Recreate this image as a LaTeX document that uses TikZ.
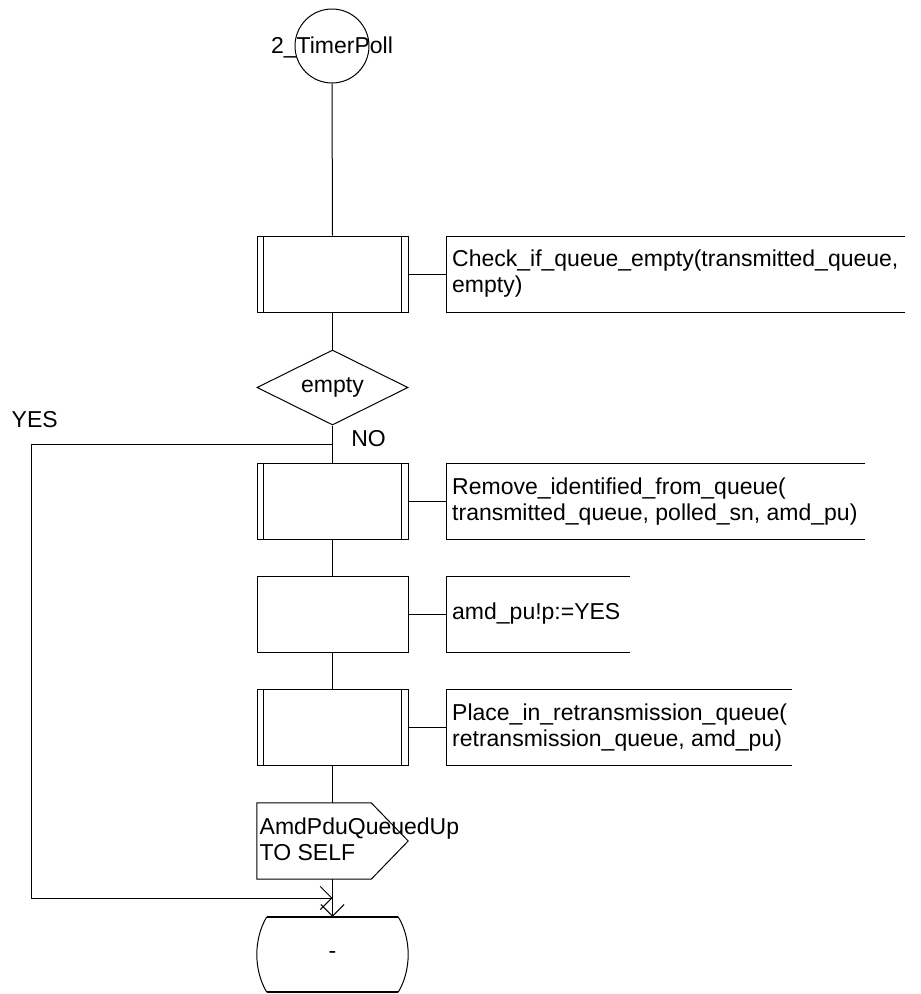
\documentclass[tikz,border=0pt]{standalone}
\usepackage{fontspec}
\setmainfont{Liberation Sans}
\usetikzlibrary{arrows.meta,shapes.geometric}

\tikzset{
  every node/.style={font=\fontsize{23pt}{26pt}\selectfont, inner sep=0pt},
  flow/.style={line width=1pt},
  boxshape/.style={draw, line width=1pt, minimum width=151pt, minimum height=76pt},
  decision/.style={draw, line width=1pt, diamond, aspect=2, minimum width=151pt, minimum height=75pt},
  ghost/.style={minimum width=151pt, minimum height=76pt},
  notetext/.style={anchor=west, align=left},
  sdlarrow/.style={line width=1pt, -{Straight Barb[length=11.6pt,width=23.2pt,line width=1pt]}},
}

\begin{document}
\begin{tikzpicture}[x=1pt, y=-1pt]
\useasboundingbox (0,0) rectangle (921,994);

% start symbol
\node[draw, circle, line width=1pt, minimum size=74pt] (start) at (332,46) {};
\node (startlbl) at (332,47) {2\_TimerPoll};

% procedure call 1
\node[boxshape] (b1) at (332.5,274) {};
\draw[flow] ([xshift=7pt]b1.north west) -- ([xshift=7pt]b1.south west)
            ([xshift=-7pt]b1.north east) -- ([xshift=-7pt]b1.south east);
\coordinate (c1l) at (446,274);
\draw[flow] (905,236) -- (446,236) -- (446,312) -- (905,312);
\node[notetext] (c1) at (452,274) {Check\_if\_queue\_empty(transmitted\_queue,\\empty)};
\draw[flow] (b1.east) -- (c1l);

% decision
\node[decision] (dec) at (332.5,387.5) {empty};
\coordinate (yesfork) at (332.5,444);
\node (yeslbl) at (34.7,420) {YES};
\node (nolbl) at (368.5,438.5) {NO};

% procedure call 2
\node[boxshape] (b2) at (332.5,501.5) {};
\draw[flow] ([xshift=7pt]b2.north west) -- ([xshift=7pt]b2.south west)
            ([xshift=-7pt]b2.north east) -- ([xshift=-7pt]b2.south east);
\coordinate (c2l) at (446,501.5);
\draw[flow] (865,463.5) -- (446,463.5) -- (446,539.5) -- (865,539.5);
\node[notetext] (c2) at (452,501.5) {Remove\_identified\_from\_queue(\\transmitted\_queue, polled\_sn, amd\_pu)};
\draw[flow] (b2.east) -- (c2l);

% task
\node[boxshape] (b3) at (332.5,614) {};
\coordinate (c3l) at (446,614);
\draw[flow] (630,576) -- (446,576) -- (446,652) -- (630,652);
\node[notetext] (c3) at (452,614) {amd\_pu!p:=YES};
\draw[flow] (b3.east) -- (c3l);

% procedure call 3
\node[boxshape] (b4) at (332.5,727.5) {};
\draw[flow] ([xshift=7pt]b4.north west) -- ([xshift=7pt]b4.south west)
            ([xshift=-7pt]b4.north east) -- ([xshift=-7pt]b4.south east);
\coordinate (c4l) at (446,727.5);
\draw[flow] (792,689.5) -- (446,689.5) -- (446,765.5) -- (792,765.5);
\node[notetext] (c4) at (452,727.5) {Place\_in\_retransmission\_queue(\\retransmission\_queue, amd\_pu)};
\draw[flow] (b4.east) -- (c4l);

% output signal
\node[ghost] (out) at (332.5,841) {};
\draw[flow] (out.north west) -- ([xshift=-37pt]out.north east) -- (out.east)
            -- ([xshift=-37pt]out.south east) -- (out.south west) -- cycle;
\node[notetext] (outlbl) at (259.5,839) {AmdPduQueuedUp\\TO SELF};

% next state
\node[minimum width=151pt, minimum height=75pt] (state) at (332.5,954.5) {-};
\draw[line width=2pt] ([xshift=10pt]state.north west) -- ([xshift=-10pt]state.north east);
\draw[line width=2pt] ([xshift=10pt]state.south west) -- ([xshift=-10pt]state.south east);
\draw[flow] ([xshift=10pt]state.north west) .. controls ([xshift=-3.3pt,yshift=-22pt]state.north west)
            and ([xshift=-3.3pt,yshift=22pt]state.south west) .. ([xshift=10pt]state.south west);
\draw[flow] ([xshift=-10pt]state.north east) .. controls ([xshift=3.3pt,yshift=-22pt]state.north east)
            and ([xshift=3.3pt,yshift=22pt]state.south east) .. ([xshift=-10pt]state.south east);

% flow lines
\coordinate (yesjoin) at (332.5,898);
\draw[flow] (start.south) -- (b1.north);
\draw[flow] (b1.south) -- (dec.north);
\draw[flow] (dec.south) -- (b2.north);
\draw[flow] (b2.south) -- (b3.north);
\draw[flow] (b3.south) -- (b4.north);
\draw[flow] (b4.south) -- (out.north);
\draw[sdlarrow] (out.south) -- (state.north);
\draw[sdlarrow] (yesfork) -- (31,444) |- (yesjoin);
\end{tikzpicture}
\end{document}
